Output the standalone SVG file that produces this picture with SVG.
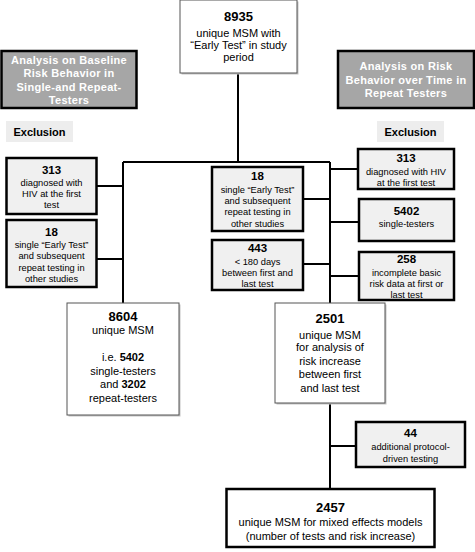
<svg xmlns="http://www.w3.org/2000/svg" width="475" height="552" viewBox="0 0 475 552">
<style>
text{font-family:"Liberation Sans",Arial,sans-serif;fill:#000;text-anchor:middle}
.main{fill:#fff;stroke:#555;stroke-width:1}
.shadow{fill:#c4c4c4}
.exc{fill:#f0f0f0;stroke:#000;stroke-width:2.5}
.hdr{fill:#a6a6a6;stroke:#000;stroke-width:2.5}
.lbl{fill:#ededed}
.ht{font-size:11px;font-weight:bold;fill:#fff;letter-spacing:0.3px}
.lt{font-size:11px;font-weight:bold}
.n{font-size:11.5px;font-weight:bold}
.t{font-size:9.3px}
.bn{font-size:13px;font-weight:bold}
.bt{font-size:11px}
.c{stroke:#000;stroke-width:2;fill:none}
</style>
<g id="connectors">
<path class="c" d="M238 73V162M123 162H330M123 162V303M330 162V303M97 186H123M97 259H123M303 199H330M303 264H330M330 169H358M330 222H359M330 276H359M330 403V489M330 446H356"/>
</g>
<g id="n8935">
<rect class="shadow" x="181.5" y="1.5" width="117" height="73"/>
<rect class="main" x="180" y="0" width="117" height="73"/>
<text class="bn" x="238.5" y="20.5">8935</text>
<text class="bt" x="238.5" y="37">unique MSM with</text>
<text class="bt" x="238.5" y="49">“Early Test” in study</text>
<text class="bt" x="238.5" y="61">period</text>
</g>
<g id="hdrLeft">
<rect class="hdr" x="1.5" y="51" width="135" height="57"/>
<text class="ht" x="69" y="64">Analysis on Baseline</text>
<text class="ht" x="69" y="77">Risk Behavior in</text>
<text class="ht" x="69" y="90.5">Single-and Repeat-</text>
<text class="ht" x="69" y="103.5">Testers</text>
</g>
<g id="hdrRight">
<rect class="hdr" x="338" y="51" width="136" height="57"/>
<text class="ht" x="406" y="70">Analysis on Risk</text>
<text class="ht" x="406" y="84">Behavior over Time in</text>
<text class="ht" x="406" y="97">Repeat Testers</text>
</g>
<g id="exclLeft">
<rect class="lbl" x="6" y="121" width="67" height="21"/>
<text class="lt" x="39.5" y="136">Exclusion</text>
</g>
<g id="exclRight">
<rect class="lbl" x="377" y="121" width="67" height="21"/>
<text class="lt" x="410.5" y="136">Exclusion</text>
</g>
<g id="l313">
<rect class="exc" x="6.5" y="158" width="90" height="56"/>
<text class="n" x="51.5" y="174">313</text>
<text class="t" x="51.5" y="185.5">diagnosed with</text>
<text class="t" x="51.5" y="196.5">HIV at the first</text>
<text class="t" x="51.5" y="207.5">test</text>
</g>
<g id="l18">
<rect class="exc" x="6.5" y="220" width="90" height="67"/>
<text class="n" x="51.5" y="236">18</text>
<text class="t" x="51.5" y="247.5">single “Early Test”</text>
<text class="t" x="51.5" y="259">and subsequent</text>
<text class="t" x="51.5" y="270.5">repeat testing in</text>
<text class="t" x="51.5" y="282">other studies</text>
</g>
<g id="m18">
<rect class="exc" x="212" y="167" width="91" height="64"/>
<text class="n" x="257.5" y="180">18</text>
<text class="t" x="257.5" y="192.5">single “Early Test”</text>
<text class="t" x="257.5" y="203.5">and subsequent</text>
<text class="t" x="257.5" y="214.5">repeat testing in</text>
<text class="t" x="257.5" y="226.5">other studies</text>
</g>
<g id="m443">
<rect class="exc" x="212" y="240" width="91" height="50"/>
<text class="n" x="257.5" y="252">443</text>
<text class="t" x="257.5" y="264.5">&lt; 180 days</text>
<text class="t" x="257.5" y="275.5">between first and</text>
<text class="t" x="257.5" y="286.5">last test</text>
</g>
<g id="r313">
<rect class="exc" x="358" y="149" width="96" height="40"/>
<text class="n" x="406" y="162">313</text>
<text class="t" x="406" y="174.5">diagnosed with HIV</text>
<text class="t" x="406" y="185.5">at the first test</text>
</g>
<g id="r5402">
<rect class="exc" x="359" y="199" width="95" height="42"/>
<text class="n" x="406.5" y="215">5402</text>
<text class="t" x="406.5" y="226.5">single-testers</text>
</g>
<g id="r258">
<rect class="exc" x="359" y="252" width="95" height="48"/>
<text class="n" x="406.5" y="263">258</text>
<text class="t" x="406.5" y="275.5">incomplete basic</text>
<text class="t" x="406.5" y="286.5">risk data at first or</text>
<text class="t" x="406.5" y="297.5">last test</text>
</g>
<g id="n8604">
<rect class="shadow" x="68.5" y="304.5" width="112" height="112"/>
<rect class="main" x="67" y="303" width="112" height="112"/>
<text class="bn" x="123" y="320.5">8604</text>
<text class="bt" x="123" y="334">unique MSM</text>
<text class="bt" x="123" y="361">i.e. <tspan font-weight="bold">5402</tspan></text>
<text class="bt" x="123" y="375">single-testers</text>
<text class="bt" x="123" y="388">and <tspan font-weight="bold">3202</tspan></text>
<text class="bt" x="123" y="402">repeat-testers</text>
</g>
<g id="n2501">
<rect class="shadow" x="276.5" y="304.5" width="110" height="100"/>
<rect class="main" x="275" y="303" width="110" height="100"/>
<text class="bn" x="330" y="322.5">2501</text>
<text class="bt" x="330" y="338.5">unique MSM</text>
<text class="bt" x="330" y="351">for analysis of</text>
<text class="bt" x="330" y="365">risk increase</text>
<text class="bt" x="330" y="378">between first</text>
<text class="bt" x="330" y="392">and last test</text>
</g>
<g id="n44">
<rect class="exc" x="356" y="422" width="109" height="45"/>
<text class="n" x="410.5" y="437">44</text>
<text class="t" x="410.5" y="449.5">additional protocol-</text>
<text class="t" x="410.5" y="461.5">driven testing</text>
</g>
<g id="n2457">
<rect x="226.5" y="489" width="208" height="58" fill="#fff" stroke="#000" stroke-width="2.5"/>
<text class="bn" x="330.5" y="511.5">2457</text>
<text class="bt" x="330.5" y="526">unique MSM for mixed effects models</text>
<text class="bt" x="330.5" y="540">(number of tests and risk increase)</text>
</g>
</svg>
